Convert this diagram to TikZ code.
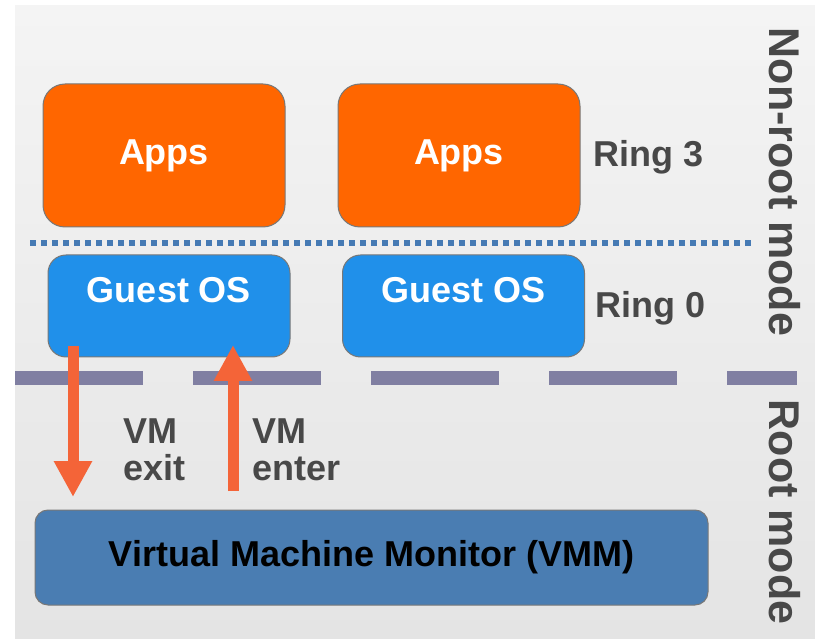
\documentclass[tikz,border=0pt]{standalone}
\usepackage{fontspec}
\setmainfont{Liberation Sans}
\usetikzlibrary{arrows.meta}
\definecolor{appor}{RGB}{255,102,0}
\definecolor{guestbl}{RGB}{32,144,234}
\definecolor{vmmbl}{RGB}{74,125,178}
\definecolor{dotbl}{RGB}{70,122,180}
\definecolor{dashpu}{RGB}{128,127,162}
\definecolor{arrowor}{RGB}{244,100,56}
\definecolor{txtgray}{RGB}{72,72,72}
\definecolor{boxedge}{RGB}{120,120,120}
\definecolor{bgtop}{RGB}{244,244,244}
\definecolor{bgbot}{RGB}{228,228,228}
\tikzset{
  bigtxt/.style={font=\fontsize{36}{37}\selectfont\bfseries},
  appbox/.style={draw=boxedge, line width=1pt, fill=appor, rounded corners=22pt,
    minimum width=242pt, minimum height=143pt, inner sep=0pt, text=white, bigtxt},
  guestbox/.style={draw=boxedge, line width=1pt, fill=guestbl, rounded corners=18pt,
    minimum width=242pt, minimum height=102pt, inner sep=0pt},
  boxtext/.style={text=white, bigtxt, inner sep=0pt},
  vmmbox/.style={draw=boxedge, line width=1pt, fill=vmmbl, rounded corners=13pt,
    minimum width=673pt, minimum height=95pt, inner sep=0pt, text=black, bigtxt},
  lbl/.style={text=txtgray, bigtxt, inner sep=0pt},
  modelbl/.style={text=txtgray, font=\fontsize{43}{45}\selectfont\bfseries, inner sep=0pt, rotate=-90},
  vmarrow/.style={draw=arrowor, line width=11pt, -{Triangle[width=36pt,length=36pt]}}
}
\begin{document}
\begin{tikzpicture}[x=1pt,y=-1pt]
\useasboundingbox (0,0) rectangle (815,639);
\fill[white] (0,0) rectangle (815,639);
\shade[top color=bgtop, bottom color=bgbot] (15,6) rectangle (815,639);

% separators
\draw[dotbl, line width=6pt, dash pattern=on 6pt off 5pt] (30,243) -- (752,243);
\draw[dashpu, line width=14pt, dash pattern=on 128pt off 50pt] (15,378) -- (797,378);

% boxes
\node[appbox] (app1) at (164,155.5) {Apps};
\node[appbox] (app2) at (459,155.5) {Apps};
\node[guestbox] (g1) at (169,306) {};
\node[boxtext] (g1t) at (169,290) {Guest OS};
\node[guestbox] (g2) at (463.5,306) {};
\node[boxtext] (g2t) at (463.5,290) {Guest OS};
\node[vmmbox] (vmm) at (371.5,557.5) {Virtual Machine Monitor (VMM)};

% ring labels
\node[lbl, anchor=west] (r3) at (593,157) {Ring 3};
\node[lbl, anchor=west] (r0) at (595,308) {Ring 0};

% mode labels
\node[modelbl] (nonroot) at (785,182) {Non-root mode};
\node[modelbl] (root) at (785,512) {Root mode};

% arrows
\coordinate (exitA) at (73,346);
\coordinate (exitB) at (73,497);
\coordinate (enterA) at (233,491);
\coordinate (enterB) at (233,345);
\draw[vmarrow] (exitA) -- (exitB);
\draw[vmarrow] (enterA) -- (enterB);

\node[lbl, align=left, anchor=north west] (exitlbl) at (123,419) {VM\\exit};
\node[lbl, align=left, anchor=north west] (enterlbl) at (252,419) {VM\\enter};
\end{tikzpicture}
\end{document}
